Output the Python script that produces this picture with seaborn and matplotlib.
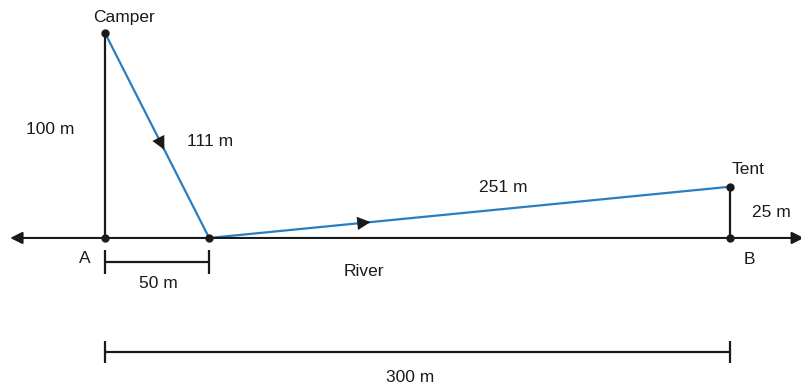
import numpy as np
import pandas as pd
import matplotlib
matplotlib.use("Agg")
import matplotlib.pyplot as plt
import seaborn as sns

# points in metres: A at origin, river along y = 0
point_names = ["Camper", "A", "Landing", "B", "Tent"]
point_x = [0, 0, 50, 300, 300]
point_y = [100, 0, 0, 0, 25]

# walked path (blue) and its leg lengths
path_names = ["Camper", "Landing", "Tent"]
leg_labels = ["111 m", "251 m"]

# dimension labels
dim_labels = ["100 m", "50 m", "25 m", "300 m"]

sns.set_style("white")
plt.rcParams["font.family"] = ["Liberation Sans", "DejaVu Sans"]

pts = pd.DataFrame({"name": point_names, "x": point_x, "y": point_y}).set_index("name")
path = pts.loc[path_names].reset_index()

fig = plt.figure(figsize=(8.01, 3.88), dpi=100)
ax = fig.add_axes([0, 0, 1, 1])
ax.set_xlim(-50.4, 334.1)
ax.set_ylim(-73.2, 116.1)
ax.axis("off")

black = "#1a1a1a"
blue = "#2a7ec0"

# river line with arrows on both ends
for end in (-45.5, 335.5):
    ax.annotate("", xy=(end, 0), xytext=(150, 0), annotation_clip=False,
                arrowprops=dict(arrowstyle="-|>", color=black, lw=1.5,
                                mutation_scale=18, shrinkA=0, shrinkB=0))

# perpendiculars
ax.plot([pts.loc["A", "x"], pts.loc["Camper", "x"]],
        [pts.loc["A", "y"], pts.loc["Camper", "y"]], color=black, lw=1.6)
ax.plot([pts.loc["B", "x"], pts.loc["Tent", "x"]],
        [pts.loc["B", "y"], pts.loc["Tent", "y"]], color=black, lw=1.6)

# walked path
sns.lineplot(data=path, x="x", y="y", sort=False, color=blue, lw=1.6,
             ax=ax, legend=False)

# direction arrows along the path
for (i, frac) in [(0, 0.56), (1, 0.30)]:
    x0, y0 = path.loc[i, "x"], path.loc[i, "y"]
    x1, y1 = path.loc[i + 1, "x"], path.loc[i + 1, "y"]
    xm, ym = x0 + frac * (x1 - x0), y0 + frac * (y1 - y0)
    dx, dy = (x1 - x0) * 0.01, (y1 - y0) * 0.01
    ax.annotate("", xy=(xm + dx, ym + dy), xytext=(xm - dx, ym - dy),
                arrowprops=dict(arrowstyle="-|>", color=black, lw=0,
                                mutation_scale=24, shrinkA=0, shrinkB=0))

# dots
sns.scatterplot(data=pts.reset_index(), x="x", y="y", color=black, s=36,
                edgecolor=black, linewidth=0, ax=ax, zorder=5, legend=False)

# dimension lines
def dim_line(x0, x1, y, half):
    ax.plot([x0, x1], [y, y], color=black, lw=1.6)
    ax.vlines([x0, x1], y - half, y + half, color=black, lw=1.6)

dim_line(pts.loc["A", "x"], pts.loc["Landing", "x"], -11.7, 5.9)
dim_line(pts.loc["A", "x"], pts.loc["B", "x"], -55.6, 5.2)

fs = 12.5
ax.text(9.1, 107.8, "Camper", ha="center", va="center", fontsize=fs, color=black)
ax.text(-26.4, 52.7, dim_labels[0], ha="center", va="center", fontsize=fs, color=black)
ax.text(50.4, 47.3, leg_labels[0], ha="center", va="center", fontsize=fs, color=black)
ax.text(-9.6, -9.8, "A", ha="center", va="center", fontsize=fs, color=black)
ax.text(25.4, -22.4, dim_labels[1], ha="center", va="center", fontsize=fs, color=black)
ax.text(124.3, -16.6, "River", ha="center", va="center", fontsize=fs, color=black)
ax.text(191.0, 24.4, leg_labels[1], ha="center", va="center", fontsize=fs, color=black)
ax.text(308.7, 33.2, "Tent", ha="center", va="center", fontsize=fs, color=black)
ax.text(319.7, 12.2, dim_labels[2], ha="center", va="center", fontsize=fs, color=black)
ax.text(309.2, -10.7, "B", ha="center", va="center", fontsize=fs, color=black)
ax.text(146.4, -68.3, dim_labels[3], ha="center", va="center", fontsize=fs, color=black)

fig.savefig("out.png", dpi=100)
